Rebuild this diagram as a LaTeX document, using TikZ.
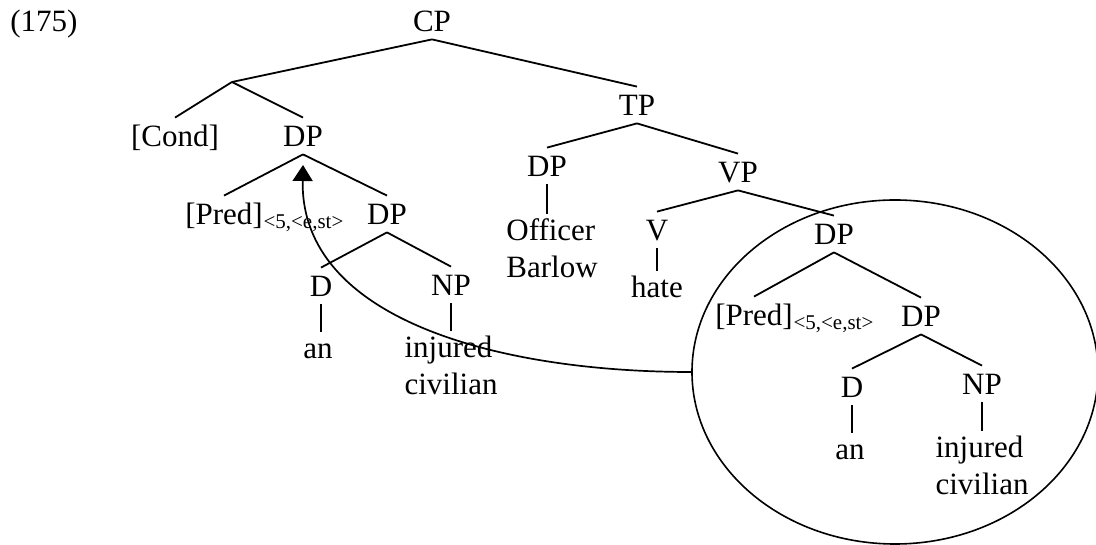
\documentclass[tikz,border=0pt]{standalone}
\usepackage{fontspec}
\setmainfont{Liberation Serif}
\usetikzlibrary{arrows.meta,shapes.geometric}
\newcommand{\leafstrut}{\rule{0pt}{13bp}}

\begin{document}
\begin{tikzpicture}[x=0.5bp,y=-0.5bp,
    font=\fontsize{15.5bp}{18.5bp}\selectfont,
    cat/.style={inner sep=0pt, anchor=base, text height=14.5bp, text depth=3.5bp},
    leaf/.style={inner sep=0pt, anchor=north, align=left},
    sub/.style={inner sep=0pt, anchor=base west, font=\fontsize{10.5bp}{12bp}\selectfont},
    branch/.style={line width=0.9bp},
    move/.style={line width=0.85bp, -{Triangle[length=8bp,width=10bp]}}]
    \useasboundingbox (0,0) rectangle (1096,545);

    % Upper tree
    \node[anchor=base west, inner sep=0pt] (exnum) at (10,32) {(175)};
    \node[cat] (cp) at (432,32) {CP};
    \coordinate (bar) at (232,82);
    \node[cat] (cond) at (175,147) {[Cond]};
    \node[cat] (dpA) at (303,147) {DP};
    \node[cat] (predA) at (224,225) {[Pred]};
    \node[sub] (predAsub) at ([yshift=-2bp]predA.base east) {<5,<e,st>};
    \node[cat] (dpB) at (387,225) {DP};
    \node[cat] (dA) at (321,297) {D};
    \node[cat] (npA) at (451,296) {NP};
    \node[leaf] (anA) at (318,332) {\leafstrut an};
    \node[leaf] (civA) at (451,331) {\leafstrut injured\\civilian};

    \node[cat] (tp) at (637,116) {TP};
    \node[cat] (dpC) at (547,177) {DP};
    \node[leaf] (officer) at (552,214) {\leafstrut Officer\\Barlow};
    \node[cat] (vp) at (738,183) {VP};
    \node[cat] (v) at (657,241) {V};
    \node[leaf] (hate) at (657,271) {\leafstrut hate};

    % Circled copy
    \node[draw, ellipse, line width=0.8bp, inner sep=0pt,
          minimum width=203bp, minimum height=172bp] (moved) at (895,372) {};
    \node[cat] (dpD) at (834,245) {DP};
    \node[cat] (predB) at (754,326) {[Pred]};
    \node[sub] (predBsub) at ([yshift=-2bp]predB.base east) {<5,<e,st>};
    \node[cat] (dpE) at (921,327) {DP};
    \node[cat] (dB) at (852,398) {D};
    \node[cat] (npB) at (982,395) {NP};
    \node[leaf] (anB) at (850,433) {\leafstrut an};
    \node[leaf] (civB) at (982,431) {\leafstrut injured\\civilian};

    \coordinate (landing) at (303,165);

    \path[branch]
        (cp.south) edge (bar)
        (cp.south) edge (tp.north)
        (bar) edge (cond.north)
        (bar) edge (dpA.north)
        (dpA.south) edge (predA.north)
        (dpA.south) edge (dpB.north)
        (dpB.south) edge (dA.north)
        (dpB.south) edge (npA.north)
        (dA.south) edge (dA.south |- anA.north)
        (npA.south) edge (npA.south |- civA.north)
        (tp.south) edge (dpC.north)
        (tp.south) edge (vp.north)
        (dpC.south) edge (dpC.south |- officer.north)
        (vp.south) edge (v.north)
        (vp.south) edge (dpD.north)
        (v.south) edge (v.south |- hate.north)
        (dpD.south) edge (predB.north)
        (dpD.south) edge (dpE.north)
        (dpE.south) edge (dB.north)
        (dpE.south) edge (npB.north)
        (dB.south) edge (dB.south |- anB.north)
        (npB.south) edge (npB.south |- civB.north);

    % Movement arrow
    \draw[move] (moved.west) .. controls (500,372) and (300,320) .. (landing);
\end{tikzpicture}
\end{document}
